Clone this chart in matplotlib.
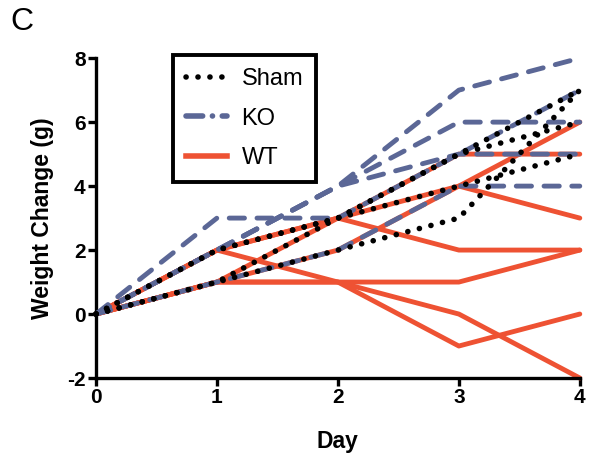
import matplotlib
matplotlib.use("Agg")
import matplotlib.pyplot as plt
from matplotlib.lines import Line2D

plt.rcParams['font.family'] = ['Liberation Sans', 'DejaVu Sans']
plt.rcParams['lines.scale_dashes'] = False

days = [0, 1, 2, 3, 4]

wt = [
    [0, 2, 1, 0, -2],
    [0, 1, 1, 1, 2],
    [0, 1, 1, -1, 0],
    [0, 2, 3, 2, 2],
    [0, 2, 3, 4, 3],
    [0, 1, 3, 5, 5],
    [0, 1, 2, 4, 6],
]
ko = [
    [0, 2, 4, 7, 8],
    [0, 2, 4, 6, 6],
    [0, 2, 4, 5, 5],
    [0, 3, 3, 5, 7],
    [0, 1, 2, 4, 4],
]
sham = [
    [0, 1, 2, 3, 7],
    [0, 2, 3, 4, 5],
    [0, 1, 3, 5, 7],
    [0, 2, 3, 5, 6],
]

yticks = [-2, 0, 2, 4, 6, 8]
xticks = [0, 1, 2, 3, 4]

WT_C = '#ee5233'
KO_C = '#5b6796'
SH_C = '#000000'

LW = 3.5
KO_DASH = (0, (11, 9))
SH_DOT = (0, (0.1, 8.5))

fig = plt.figure(figsize=(5.9, 4.69), dpi=100)
ax = fig.add_axes([0.1627, 0.194, 0.820, 0.682])

for s in wt:
    ax.plot(days, s, color=WT_C, lw=LW, solid_capstyle='round', zorder=2, clip_on=False)
for s in ko:
    ax.plot(days, s, color=KO_C, lw=LW, linestyle=KO_DASH,
            dash_capstyle='round', zorder=3, clip_on=False)
for s in sham:
    ax.plot(days, s, color=SH_C, lw=4.0, linestyle=SH_DOT,
            dash_capstyle='round', zorder=4, clip_on=False)

ax.set_xlim(0, 4)
ax.set_ylim(-2, 8)
ax.set_xticks(xticks)
ax.set_yticks(yticks)
ax.set_xticklabels([str(t) for t in xticks], fontsize=15, fontweight='bold')
ax.set_yticklabels([str(t) for t in yticks], fontsize=15, fontweight='bold')
for sp in ['top', 'right']:
    ax.spines[sp].set_visible(False)
for sp in ['left', 'bottom']:
    ax.spines[sp].set_linewidth(2.4)
ax.tick_params(direction='out', length=6, width=2.4, pad=1.5)

ax.set_xlabel('Day', fontsize=16.5, fontweight='bold', labelpad=16)
ax.set_ylabel('Weight Change (g)', fontsize=16.5, fontweight='bold', labelpad=9)

fig.text(0.018, 0.985, 'C', fontsize=23, va='top', ha='left')

handles = [
    Line2D([], [], color=SH_C, lw=4.0, linestyle=(0, (0.1, 8.5)), dash_capstyle='round'),
    Line2D([], [], color=KO_C, lw=4.0, linestyle=(0, (12, 7, 0.1, 7)), dash_capstyle='round'),
    Line2D([], [], color=WT_C, lw=4.0),
]
leg = fig.legend(handles, ['Sham', 'KO', 'WT'], loc='upper left',
                 bbox_to_anchor=(173 / 590, 1 - 55 / 469), borderaxespad=0,
                 fontsize=17, frameon=True, fancybox=False, edgecolor='black',
                 framealpha=1, handlelength=1.75, handletextpad=0.6,
                 borderpad=0.55, labelspacing=0.75)
leg.get_frame().set_linewidth(2.8)

fig.savefig('out.png', dpi=100)
